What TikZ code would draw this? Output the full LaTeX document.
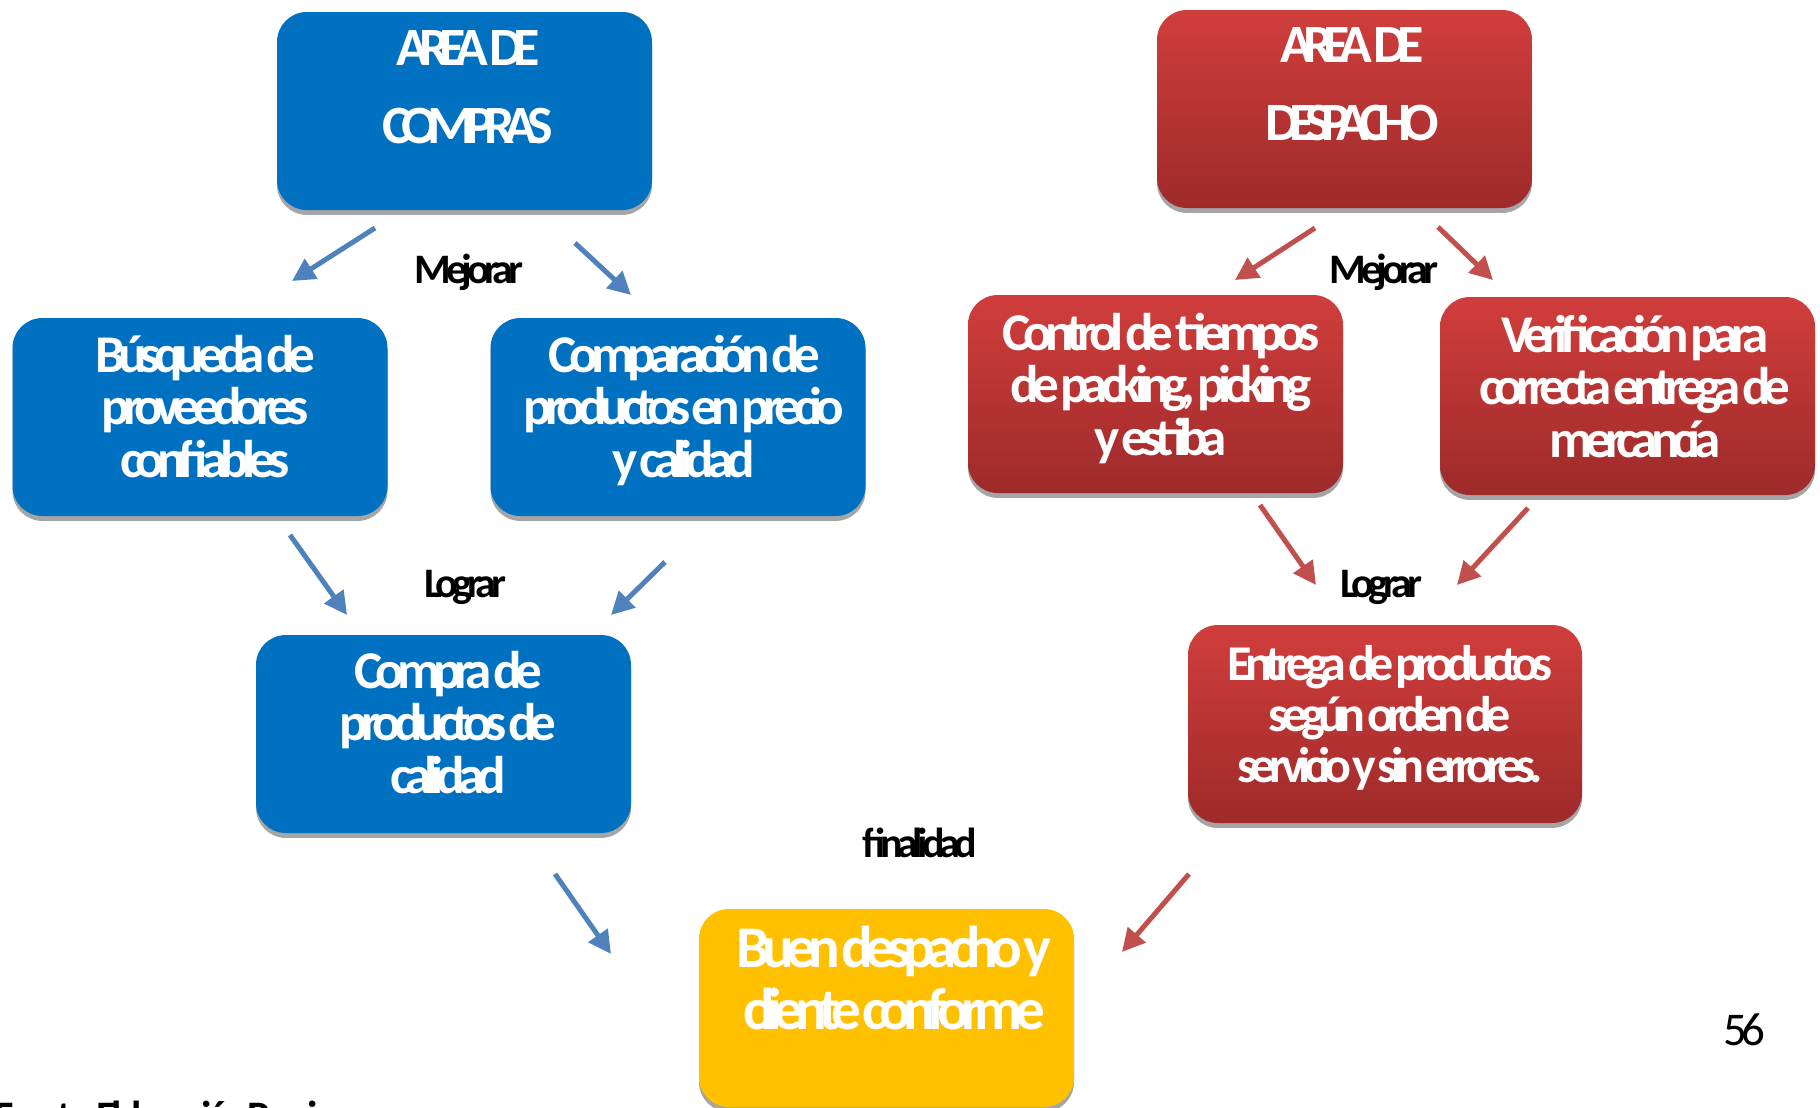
\documentclass[tikz,border=0pt]{standalone}
\usepackage{fontspec}
\setmainfont{Carlito}[LetterSpace=-13, WordSpace=0.3]
\newfontfamily\titlefont{Carlito}[LetterSpace=-18, WordSpace=0.3]
\usetikzlibrary{shadows,arrows.meta}

% one drawing unit
\newdimen\pu \pu=0.02cm

\definecolor{boxblue}{RGB}{0,112,192}
\definecolor{redtop}{RGB}{208,62,60}
\definecolor{redbot}{RGB}{158,42,42}
\definecolor{boxyellow}{RGB}{255,192,0}
\definecolor{arrowblue}{RGB}{79,129,189}
\definecolor{arrowred}{RGB}{192,80,77}
\definecolor{shadowgray}{RGB}{165,165,165}

% centred lines, baseline of the stack = baseline of its first line
\newcommand\stack[1]{\vtop{\lineskiplimit=-\maxdimen\lineskip=0pt\halign{\hfil##\hfil\cr#1\crcr}}}

\tikzset{
  card/.style={rounded corners=17pt, minimum width=375\pu, minimum height=198\pu,
    inner sep=0pt, outer sep=0pt,
    general shadow={fill=shadowgray, shadow yshift=-2.8pt}},
  bluecard/.style={card, fill=boxblue},
  redcard/.style={card, top color=redtop, bottom color=redbot},
  yellowcard/.style={card, fill=boxyellow},
  cardtext/.style={text=white, inner sep=0pt, anchor=base,
    font=\fontsize{30.2}{29.9}\selectfont\bfseries},
  titletext/.style={text=white, inner sep=0pt, anchor=base,
    font=\titlefont\fontsize{30.7}{44.4}\selectfont\bfseries},
  steplabel/.style={inner sep=0pt, anchor=base,
    font=\fontsize{23.9}{28}\selectfont\bfseries},
  barrow/.style={draw=arrowblue, line width=2.85pt, -{Triangle[length=13pt, width=13pt]}},
  rarrow/.style={draw=arrowred, line width=2.85pt, -{Triangle[length=13pt, width=13pt]}},
}

\begin{document}
\begin{tikzpicture}[x=\pu, y=-\pu]
\useasboundingbox (0,0) rectangle (1820,1107);

% ---- purchasing area ----
\node[bluecard] (compras) at (464.5,111) {};
\node[titletext] (comprasT) at (468,65) {\stack{AREA DE\cr COMPRAS}};

\node[bluecard] (busq) at (200,417) {};
\node[cardtext] (busqT) at (205,372) {\stack{Búsqueda de\cr proveedores\cr confiables}};

\node[bluecard] (compar) at (678,417) {};
\node[cardtext] (comparT) at (684,372) {\stack{Comparación de\cr productos en precio\cr y calidad}};

\node[bluecard] (compra) at (443.5,734) {};
\node[cardtext] (compraT) at (448,688) {\stack{Compra de\cr productos de\cr calidad}};

% ---- dispatch area ----
\node[redcard] (despacho) at (1344.5,109) {};
\node[titletext] (despachoT) at (1352,62) {\stack{AREA DE\cr DESPACHO}};

\node[redcard] (control) at (1155.5,394) {};
\node[cardtext] (controlT) at (1161,350) {\stack{Control de tiempos\cr de packing, picking\cr y estiba}};

\node[redcard] (verif) at (1627.5,396) {};
\node[cardtext] (verifT) at (1635,352) {\stack{Verificación para\cr correcta entrega de\cr mercancía}};

\node[redcard, minimum width=394\pu] (entrega) at (1385,724) {};
\node[cardtext, font=\fontsize{28.5}{29.3}\selectfont\bfseries] (entregaT) at (1390,680)
  {\stack{Entrega de productos\cr según orden de\cr servicio y sin errores.}};

% ---- goal ----
\node[yellowcard] (buen) at (886.5,1008) {};
\node[cardtext, font=\fontsize{33.6}{35.8}\selectfont\bfseries] (buenT) at (894,967)
  {\stack{Buen despacho y\cr cliente conforme}};

% ---- step labels ----
\node[steplabel] (mej1) at (469,283) {Mejorar};
\node[steplabel] (mej2) at (1384,283) {Mejorar};
\node[steplabel] (log1) at (465,597) {Lograr};
\node[steplabel] (log2) at (1381,597) {Lograr};
\node[steplabel] (fin) at (920,857) {finalidad};

\node[inner sep=0pt, anchor=base, font=\fontsize{26.7}{30}\selectfont] (pagenum) at (1744,1045) {56};
\node[steplabel, anchor=base west] (fuente) at (-6,1130) {Fuente: Elaboración Propia};

% ---- connectors ----
\draw[barrow] ([shift={(-89.5,18)}]compras.south) -- ([shift={(92,-37)}]busq.north);
\draw[barrow] ([shift={(110.5,33)}]compras.south) -- ([shift={(-47,-23)}]compar.north);
\draw[barrow] ([shift={(90,19)}]busq.south) -- ([shift={(-96.5,-20)}]compra.north);
\draw[barrow] ([shift={(-13,46)}]compar.south) -- ([shift={(167.5,-20)}]compra.north);
\draw[barrow] ([shift={(111.5,41)}]compra.south) -- ([shift={(-88,-54)}]buen.west);

\draw[rarrow] ([shift={(-29.5,20)}]despacho.south) -- ([shift={(79.5,-15)}]control.north);
\draw[rarrow] ([shift={(93.5,19)}]despacho.south) -- ([shift={(-134.5,-17)}]verif.north);
\draw[rarrow] ([shift={(104.5,12)}]control.south) -- ([shift={(-69,-40)}]entrega.north);
\draw[rarrow] ([shift={(-99.5,13)}]verif.south) -- ([shift={(72,-40)}]entrega.north);
\draw[rarrow] ([shift={(-196,51)}]entrega.south) -- ([shift={(48,-56)}]buen.east);
\end{tikzpicture}
\end{document}
